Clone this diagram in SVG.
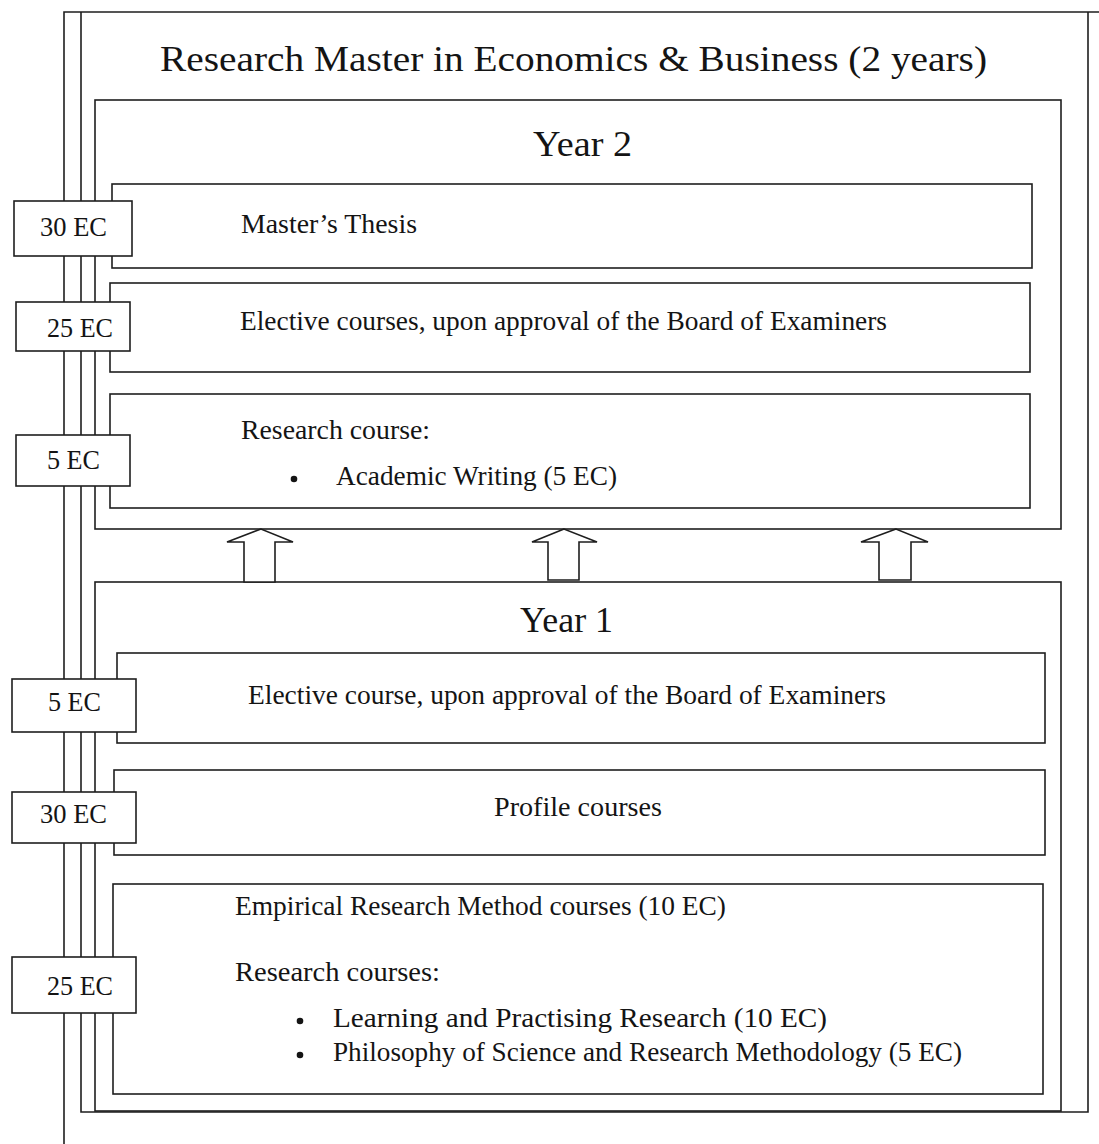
<svg xmlns="http://www.w3.org/2000/svg" width="1099" height="1144" viewBox="0 0 1099 1144">
<style>
.ln{fill:none;stroke:#1e1e1e;stroke-width:1.6}
.bx{fill:#fff;stroke:#1e1e1e;stroke-width:1.6}
.ar{fill:#fff;stroke:#1e1e1e;stroke-width:1.6;stroke-linejoin:miter}
text{font-family:"Liberation Serif","DejaVu Serif",serif;fill:#141414}
.t{font-size:36px}
.b{font-size:28px}
</style>
<rect width="1099" height="1144" fill="#fff"/>
<g id="frame">
<path class="ln" d="M64 1144 V12 H1099 M81 12 V1112 H1088 V12"/>
<text class="t" x="160" y="71" textLength="827" lengthAdjust="spacingAndGlyphs">Research Master in Economics &amp; Business (2 years)</text>
</g>
<g id="year2">
<rect class="bx" x="95" y="100" width="966" height="429"/>
<text class="t" x="533" y="156" textLength="99" lengthAdjust="spacingAndGlyphs">Year 2</text>
</g>
<g id="year1">
<rect class="bx" x="95" y="582" width="966" height="529"/>
<text class="t" x="520" y="632" textLength="93" lengthAdjust="spacingAndGlyphs">Year 1</text>
</g>
<g id="thesis">
<rect class="bx" x="112" y="184" width="920" height="84"/>
<text class="b" x="241" y="233" textLength="176" lengthAdjust="spacingAndGlyphs">Master’s Thesis</text>
</g>
<g id="elective2">
<rect class="bx" x="110" y="283" width="920" height="89"/>
<text class="b" x="240" y="330" textLength="647" lengthAdjust="spacingAndGlyphs">Elective courses, upon approval of the Board of Examiners</text>
</g>
<g id="research2">
<rect class="bx" x="110" y="394" width="920" height="114"/>
<text class="b" x="241" y="439" textLength="189" lengthAdjust="spacingAndGlyphs">Research course:</text>
<circle cx="294" cy="479" r="3.3" fill="#141414"/>
<text class="b" x="336" y="485" textLength="281" lengthAdjust="spacingAndGlyphs">Academic Writing (5 EC)</text>
</g>
<g id="elective1">
<rect class="bx" x="117" y="653" width="928" height="90"/>
<text class="b" x="248" y="704" textLength="638" lengthAdjust="spacingAndGlyphs">Elective course, upon approval of the Board of Examiners</text>
</g>
<g id="profile">
<rect class="bx" x="114" y="770" width="931" height="85"/>
<text class="b" x="494" y="816" textLength="168" lengthAdjust="spacingAndGlyphs">Profile courses</text>
</g>
<g id="empirical">
<rect class="bx" x="113" y="884" width="930" height="210"/>
<text class="b" x="235" y="915" textLength="491" lengthAdjust="spacingAndGlyphs">Empirical Research Method courses (10 EC)</text>
<text class="b" x="235" y="981" textLength="205" lengthAdjust="spacingAndGlyphs">Research courses:</text>
<circle cx="300" cy="1021" r="3.3" fill="#141414"/>
<text class="b" x="333" y="1027" textLength="494" lengthAdjust="spacingAndGlyphs">Learning and Practising Research (10 EC)</text>
<circle cx="300" cy="1055" r="3.3" fill="#141414"/>
<text class="b" x="333" y="1061" textLength="629" lengthAdjust="spacingAndGlyphs">Philosophy of Science and Research Methodology (5 EC)</text>
</g>
<g id="ec-y2-30">
<rect class="bx" x="14" y="201" width="118" height="55"/>
<text class="b" x="40" y="236" textLength="67" lengthAdjust="spacingAndGlyphs">30 EC</text>
</g>
<g id="ec-y2-25">
<rect class="bx" x="16" y="302" width="114" height="49"/>
<text class="b" x="47" y="337" textLength="66" lengthAdjust="spacingAndGlyphs">25 EC</text>
</g>
<g id="ec-y2-5">
<rect class="bx" x="16" y="435" width="114" height="51"/>
<text class="b" x="47" y="469" textLength="53" lengthAdjust="spacingAndGlyphs">5 EC</text>
</g>
<g id="ec-y1-5">
<rect class="bx" x="12" y="679" width="124" height="53"/>
<text class="b" x="48" y="711" textLength="53" lengthAdjust="spacingAndGlyphs">5 EC</text>
</g>
<g id="ec-y1-30">
<rect class="bx" x="12" y="792" width="124" height="51"/>
<text class="b" x="40" y="823" textLength="67" lengthAdjust="spacingAndGlyphs">30 EC</text>
</g>
<g id="ec-y1-25">
<rect class="bx" x="12" y="957" width="124" height="56"/>
<text class="b" x="47" y="995" textLength="66" lengthAdjust="spacingAndGlyphs">25 EC</text>
</g>
<g id="connectors">
<polygon class="ar" points="261,529 227,542 244,542 244,582 275,582 275,542 293,542"/>
<polygon class="ar" points="564,529 532,542 548,542 548,580 579,580 579,542 597,542"/>
<polygon class="ar" points="896,529 861,542 879,542 879,580 911,580 911,542 928,542"/>
</g>
</svg>
